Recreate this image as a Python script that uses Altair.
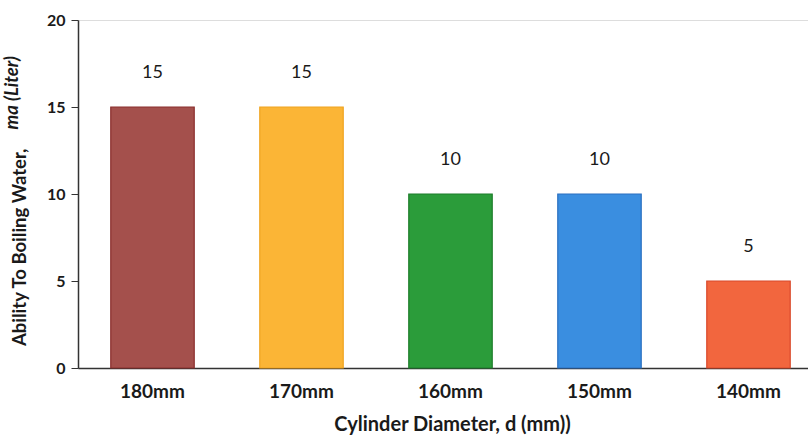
import altair as alt
import pandas as pd

# Boiling capacity by cylinder diameter
diameters = ["180mm", "170mm", "160mm", "150mm", "140mm"]
water_liters = [15, 15, 10, 10, 5]
bar_colors = ["#a4504c", "#fbb536", "#2b9c3a", "#3a8ee0", "#f2663e"]
bar_strokes = ["#8a2e2c", "#f0a420", "#1d7d2a", "#2a6fc0", "#d8482a"]

df = pd.DataFrame({"d": diameters, "water": water_liters})

FONT = "Lato"
INK = "#1a1a1a"

x = alt.X(
    "d:N",
    sort=diameters,
    scale=alt.Scale(paddingInner=0.44, paddingOuter=0.22, range=[0, 745]),
    axis=alt.Axis(
        title="Cylinder Diameter, d (mm))",
        titleFont=FONT, titleFontSize=20, titleFontWeight="bold", titleColor=INK,
        titlePadding=13, titleX=374, titleAnchor="start", titleAlign="center",
        labelFont=FONT, labelFontSize=19, labelFontWeight="bold", labelColor=INK,
        labelAngle=0, labelPadding=14,
        ticks=False, domainColor="#333333", domainWidth=1.5,
    ),
)
y = alt.Y(
    "water:Q",
    scale=alt.Scale(domain=[0, 20]),
    axis=alt.Axis(
        title=None, values=[0, 5, 10, 15, 20], grid=False,
        labelFont=FONT, labelFontSize=16, labelFontWeight="bold", labelColor=INK,
        labelPadding=6, tickSize=7, tickColor="#333333", domainColor="#333333", domainWidth=1.5,
    ),
)

bars = alt.Chart(df).mark_bar(strokeWidth=1.2).encode(
    x=x, y=y,
    color=alt.Color("d:N", scale=alt.Scale(domain=diameters, range=bar_colors), legend=None),
    stroke=alt.Stroke("d:N", scale=alt.Scale(domain=diameters, range=bar_strokes), legend=None),
)

labels = alt.Chart(df).mark_text(
    dy=-34, font=FONT, fontSize=18, color=INK
).encode(x=alt.X("d:N", sort=diameters), y="water:Q", text="water:Q")

# Y title in two styles: upright bold part plus italic symbol/unit
ytitle_a = alt.Chart(df.head(1)).mark_text(
    angle=270, align="left", baseline="alphabetic", font=FONT, fontSize=18.5,
    fontWeight="bold", color=INK,
).encode(x=alt.value(-52), y=alt.value(326), text=alt.value("Ability To Boiling Water,"))
ytitle_b = alt.Chart(df.head(1)).mark_text(
    angle=270, align="right", baseline="alphabetic", font=FONT, fontSize=18.5,
    fontWeight="bold", fontStyle="italic", color=INK,
).encode(x=alt.value(-60), y=alt.value(36), text=alt.value("ma (Liter)"))

chart = alt.layer(bars, labels, ytitle_a, ytitle_b).properties(
    width=730, height=348,
    autosize=alt.AutoSizeParams(type="none"),
    padding={"left": 78, "top": 20, "right": 0, "bottom": 74},
).configure_view(stroke=None).configure(background="white")

chart.save("out.html", embed_options={"renderer": "svg", "actions": False})
